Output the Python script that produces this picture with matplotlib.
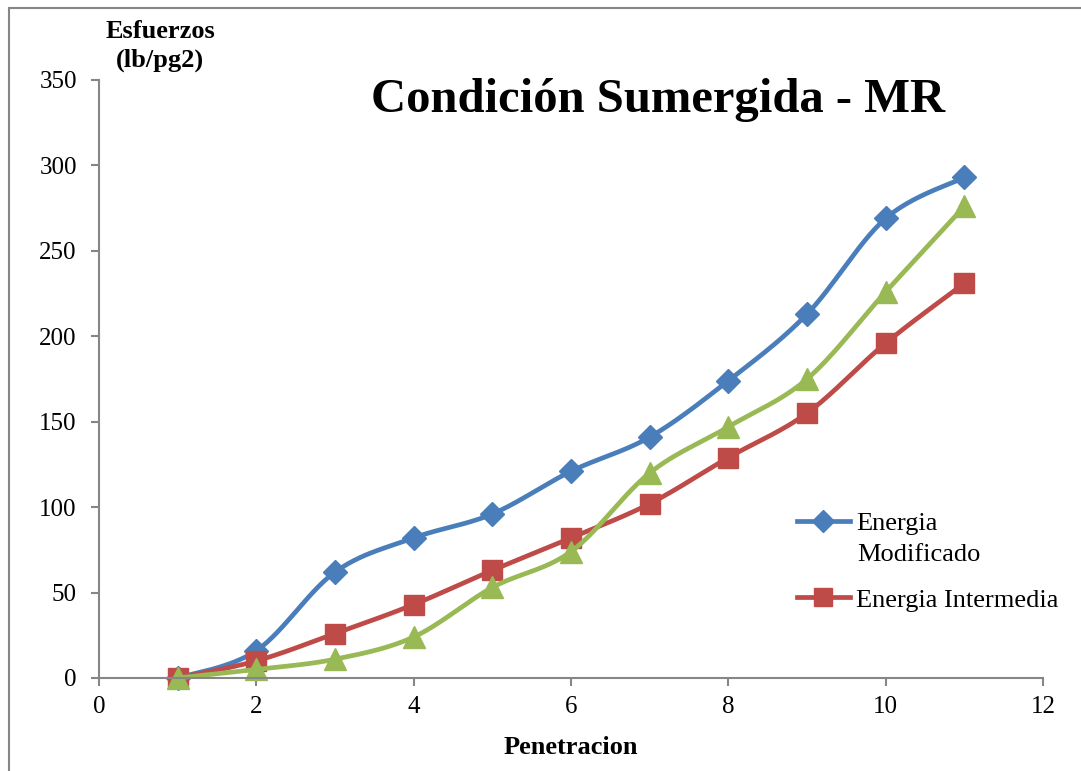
import numpy as np
import matplotlib
matplotlib.use("Agg")
import matplotlib.pyplot as plt
from matplotlib.lines import Line2D
from matplotlib.patches import Rectangle

plt.rcParams['font.family'] = ['Liberation Serif', 'DejaVu Serif']

# Penetracion vs esfuerzos (lb/pg2)
penetracion = [1, 2, 3, 4, 5, 6, 7, 8, 9, 10, 11]
energia_modificado = [0, 16, 62, 82, 96, 121, 141, 174, 213, 269, 293]
energia_intermedia = [0, 10, 26, 43, 63, 82, 102, 129, 155, 196, 231]
energia_tercera = [0, 5, 11, 24, 53, 74, 120, 147, 175, 226, 276]

labels = ['Energia', 'Energia Intermedia']
colors = ['#4A7EBB', '#BE4B48', '#98B954']
markers = ['D', 's', '^']
msizes = [12, 14.5, 16]


def smooth(x, y, n=30):
    # Catmull-Rom style Bezier smoothing (like spreadsheet "smoothed line")
    p = np.column_stack([x, y]).astype(float)
    pts = [p[0]]
    for i in range(len(p) - 1):
        p0 = p[i - 1] if i > 0 else p[i]
        p3 = p[i + 2] if i + 2 < len(p) else p[i + 1]
        c1 = p[i] + (p[i + 1] - p0) / 6
        c2 = p[i + 1] - (p3 - p[i]) / 6
        t = np.linspace(0, 1, n)[1:, None]
        seg = ((1 - t) ** 3) * p[i] + 3 * ((1 - t) ** 2) * t * c1 \
            + 3 * (1 - t) * t ** 2 * c2 + t ** 3 * p[i + 1]
        pts.extend(seg)
    pts = np.array(pts)
    return pts[:, 0], pts[:, 1]


fig = plt.figure(figsize=(10.81, 7.71), dpi=100)
ax = fig.add_axes([99 / 1081, 93 / 771, 944 / 1081, 598 / 771])

series = [energia_modificado, energia_intermedia, energia_tercera]
for vals, c, m, ms in zip(series, colors, markers, msizes):
    sx, sy = smooth(penetracion, vals)
    ax.plot(sx, sy, color=c, lw=3.4, solid_capstyle='round', clip_on=False)
    ax.plot(penetracion, vals, ls='none', marker=m, ms=ms, color=c,
            mec=c, clip_on=False)

ax.set_xlim(0, 12)
ax.set_ylim(0, 350)
ax.set_xticks(range(0, 13, 2))
ax.set_yticks(range(0, 351, 50))
for s in ['top', 'right']:
    ax.spines[s].set_visible(False)
for s in ['left', 'bottom']:
    ax.spines[s].set_color('#868686')
    ax.spines[s].set_linewidth(1.5)
ax.tick_params(axis='both', direction='out', length=6, width=1.5,
               color='#868686', labelsize=18)
ax.tick_params(axis='y', pad=10)
ax.tick_params(axis='x', pad=7)

ax.set_xlabel('Penetracion', fontsize=19, fontweight='bold', labelpad=13)
fig.text(160 / 1081, 1 - 46 / 771, 'Esfuerzos\n(lb/pg2)', ha='center',
         va='center', fontsize=19, fontweight='bold', linespacing=1.35)
fig.text(658 / 1081, 1 - 100 / 771, 'Condición Sumergida - MR', ha='center',
         va='center', fontsize=35, fontweight='bold')

# legend: first entry wraps onto a second line under its text
handles = [Line2D([], [], color=c, lw=3.4, marker=m, ms=ms * 0.9)
           for c, m, ms in zip(colors[:2], markers[:2], msizes[:2])]
ax.legend(handles, labels, loc='upper left', bbox_to_anchor=(797 / 1081, 1 - 512 / 771),
          bbox_transform=fig.transFigure, frameon=False, fontsize=19,
          handlelength=2.0, handletextpad=0.25, labelspacing=2.0,
          borderaxespad=0, borderpad=0)
fig.text(857 / 1081, 1 - 555 / 771, 'Modificado', ha='left', va='center',
         fontsize=19)

# outer chart frame
fig.patches.append(Rectangle((9 / 1081, -0.1), 1.1, 1 - 8 / 771 + 0.1,
                             transform=fig.transFigure, fill=False,
                             edgecolor='#868686', lw=1.5))

fig.savefig('out.png', dpi=100)
